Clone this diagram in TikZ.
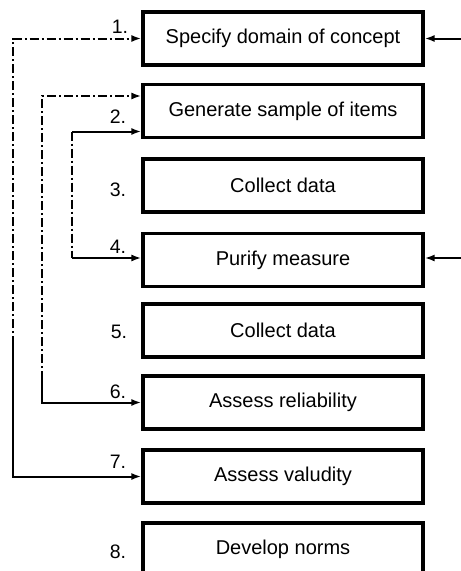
\documentclass[tikz,border=0pt]{standalone}
\usepackage{fontspec}
\setmainfont{Liberation Sans}
\usetikzlibrary{arrows.meta}
\begin{document}
\begin{tikzpicture}[x=1pt,y=-1pt,
  stepbox/.style={draw,line width=3.2pt,minimum width=280pt,minimum height=53pt,
    inner sep=0pt,font=\fontsize{20}{24}\selectfont},
  num/.style={font=\fontsize{19.5}{22}\selectfont,inner sep=0pt},
  link/.style={line width=2pt,-{Latex[length=10pt,width=7pt]}},
  plain/.style={line width=2pt},
  fb/.style={dash pattern=on 9pt off 3pt on 2pt off 3pt}]
\useasboundingbox (0,0) rectangle (461,571);
\clip (0,0) rectangle (461,571);

% the eight steps
\node[stepbox] (s1) at (283,38.5)  {Specify domain of concept};
\node[stepbox] (s2) at (283,111)   {Generate sample of items};
\node[stepbox] (s3) at (283,185.5) {Collect data};
\node[stepbox] (s4) at (283,260)   {Purify measure};
\node[stepbox] (s5) at (283,330.5) {Collect data};
\node[stepbox] (s6) at (283,402.5) {Assess reliability};
\node[stepbox] (s7) at (283,476.5) {Assess valudity};
\node[stepbox] (s8) at (283,549.5) {Develop norms};

% step numbers
\node[num] (n1) at (120,27)  {1.};
\node[num] (n2) at (118,117) {2.};
\node[num] (n3) at (118,190) {3.};
\node[num] (n4) at (118,247) {4.};
\node[num] (n5) at (119,332) {5.};
\node[num] (n6) at (118,392) {6.};
\node[num] (n7) at (118,462) {7.};
\node[num] (n8) at (118,552) {8.};

% outer feedback loop: back to steps 1 and 7
\coordinate (o) at (13,345);
\draw[link,fb] (o) |- (s1.west);
\draw[link] (o) |- (s7.west);

% middle feedback loop: back to steps 2 and 6
\coordinate (m) at (42,380);
\draw[link,fb] (m) |- ([yshift=15pt]s2.west);
\draw[link] (m) |- (s6.west);

% inner loop between steps 2 and 4
\coordinate (i1) at (72,131.5);
\coordinate (i2) at (72,258);
\draw[link] (i1) -- ([yshift=-20.5pt]s2.west);
\draw[plain,fb] (i1) -- (i2);
\draw[link] (i2) -- (s4.west |- i2);

% incoming arrows on the right
\coordinate (r1) at (461,38.5);
\coordinate (r4) at (461,258);
\draw[link] (r1) -- (s1.east);
\draw[link] (r4) -- (s4.east |- r4);
\end{tikzpicture}
\end{document}
